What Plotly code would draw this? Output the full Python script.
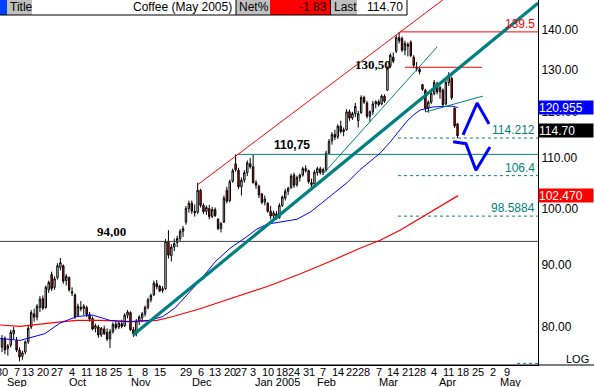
import numpy as np
import pandas as pd
import plotly.graph_objects as go

# ---------------- data ----------------
holidays = ['2004-09-06', '2004-11-25', '2004-12-24', '2004-12-31',
            '2005-01-17', '2005-02-21', '2005-03-25']
days = pd.bdate_range('2004-08-30', '2005-05-31')
days = days[~days.isin(pd.to_datetime(holidays))]

opens = [77.0, 78.3, 76.8, 77.3, 79.0, 78.0, 76.6, 75.7, 76.3, 77.8,
         80.0, 82.0, 81.5, 83.0, 84.4, 83.0, 85.8, 88.3, 86.2, 87.8,
         89.5, 89.8, 87.3, 87.8, 85.5, 85.0, 81.8, 83.0, 82.8, 83.0,
         81.9, 81.3, 79.8, 80.0, 78.8, 79.7, 79.2, 78.2, 79.3, 80.4,
         80.0, 80.5, 80.2, 81.8, 82.2, 79.6, 79.0, 80.9, 81.4, 82.0,
         83.0, 84.2, 85.0, 86.8, 86.4, 85.7, 86.0, 94.0, 91.5, 93.0,
         93.8, 94.5, 95.8, 97.5, 100.0, 101.0, 99.5, 99.3, 103.5, 100.6,
         99.5, 100.0, 98.5, 99.8, 98.0, 96.3, 97.5, 103.5, 101.5, 105.3,
         108.8, 107.5, 104.2, 105.5, 107.0, 108.8, 108.2, 105.0, 104.3, 102.8,
         101.2, 101.0, 99.5, 98.6, 99.0, 98.3, 100.6, 102.0, 103.3, 104.0,
         106.5, 104.6, 106.0, 106.5, 107.8, 107.4, 105.0, 104.8, 107.0, 107.8,
         107.0, 107.6, 111.0, 113.6, 115.0, 114.5, 116.8, 115.6, 116.0, 120.0,
         118.6, 119.6, 118.0, 119.8, 123.3, 122.0, 119.0, 120.0, 121.8, 122.3,
         121.8, 123.6, 125.0, 130.8, 133.0, 134.5, 138.0, 137.8, 134.8, 136.2,
         136.8, 133.0, 130.5, 130.0, 126.3, 125.0, 120.8, 122.2, 124.2, 126.5,
         124.6, 125.0, 121.8, 126.8, 127.8, 120.8, 117.3]
highs = [78.8, 78.6, 77.5, 79.6, 80.0, 78.5, 77.0, 76.5, 78.0, 80.2,
         82.6, 82.8, 83.5, 84.8, 84.9, 86.5, 87.3, 88.8, 88.0, 90.2,
         91.1, 90.0, 88.4, 88.0, 86.2, 85.2, 83.6, 84.0, 83.5, 83.3,
         82.3, 81.6, 80.5, 80.3, 80.0, 80.2, 79.8, 79.7, 80.7, 81.0,
         80.8, 81.1, 82.1, 82.6, 82.4, 80.0, 81.2, 81.8, 82.3, 83.3,
         84.5, 85.2, 87.3, 87.4, 86.6, 86.4, 94.4, 96.0, 93.5, 94.5,
         95.0, 96.2, 96.8, 100.5, 101.5, 101.5, 100.8, 105.0, 103.8, 101.0,
         100.6, 100.7, 100.3, 100.2, 98.2, 97.5, 102.5, 104.2, 105.6, 107.8,
         110.75, 108.0, 106.0, 107.5, 109.5, 110.0, 110.7, 105.5, 104.6, 103.0,
         102.5, 101.2, 100.5, 99.6, 99.5, 101.0, 102.5, 103.8, 104.2, 106.8,
         107.0, 106.4, 106.8, 108.2, 108.5, 107.6, 105.8, 107.5, 108.2, 108.2,
         108.0, 111.5, 114.0, 115.5, 116.0, 117.2, 118.0, 116.5, 120.6, 120.5,
         120.0, 122.0, 120.2, 123.8, 123.7, 122.5, 120.3, 122.5, 122.6, 122.8,
         124.0, 124.0, 130.7, 134.0, 134.2, 138.6, 139.5, 138.3, 137.2, 136.8,
         137.3, 133.5, 131.8, 130.6, 126.5, 125.3, 122.6, 124.6, 127.4, 127.0,
         126.0, 125.4, 127.4, 129.3, 128.2, 121.0, 117.5]
lows = [76.3, 76.0, 75.8, 77.0, 78.2, 76.3, 75.0, 75.2, 76.0, 77.5,
        79.7, 80.8, 81.0, 82.3, 82.6, 82.8, 85.3, 85.6, 85.8, 87.5,
        89.0, 86.8, 86.5, 85.5, 84.8, 81.2, 81.5, 82.4, 81.8, 81.5,
        80.8, 79.5, 79.2, 78.4, 78.5, 78.8, 77.9, 76.9, 79.0, 79.6,
        79.7, 79.8, 80.0, 81.3, 79.4, 78.5, 78.6, 80.3, 80.8, 81.6,
        82.7, 83.8, 84.8, 85.9, 85.5, 85.3, 85.8, 91.0, 90.5, 92.3,
        93.0, 94.0, 94.8, 97.0, 99.2, 99.0, 98.5, 99.0, 100.2, 99.0,
        98.8, 98.0, 98.2, 98.4, 96.0, 95.6, 97.3, 101.0, 101.2, 105.0,
        107.2, 103.8, 102.5, 105.0, 106.3, 107.8, 104.8, 103.8, 102.0, 100.8,
        100.6, 99.2, 98.0, 97.8, 97.9, 98.1, 100.3, 101.5, 102.6, 103.8,
        104.0, 104.2, 105.2, 106.2, 107.0, 104.8, 103.8, 104.5, 106.4, 106.6,
        106.5, 107.2, 110.8, 112.8, 113.8, 114.0, 115.2, 114.6, 115.8, 118.0,
        118.2, 118.8, 116.5, 119.5, 121.8, 118.5, 117.8, 119.3, 120.8, 121.2,
        121.5, 122.0, 124.8, 130.3, 131.5, 134.0, 136.5, 134.3, 133.5, 133.2,
        133.0, 130.3, 129.5, 128.8, 124.8, 120.0, 119.8, 121.8, 123.8, 124.0,
        123.0, 121.0, 121.5, 126.0, 122.7, 116.4, 114.2]
closes = [78.3, 76.6, 77.2, 79.2, 79.5, 76.6, 75.6, 76.2, 77.8, 79.8,
          82.2, 81.5, 83.2, 84.3, 82.9, 86.2, 87.0, 86.0, 87.6, 89.8,
          90.3, 87.2, 88.0, 85.8, 85.3, 81.6, 83.2, 82.8, 83.2, 81.9,
          81.2, 79.7, 80.2, 78.8, 79.8, 79.0, 78.2, 79.3, 80.4, 79.9,
          80.6, 80.1, 81.8, 82.3, 79.6, 79.0, 80.9, 81.5, 82.0, 83.0,
          84.2, 84.9, 86.9, 86.3, 85.6, 86.0, 94.0, 91.6, 93.0, 93.6,
          94.5, 95.8, 96.3, 100.0, 101.0, 99.5, 99.2, 103.5, 100.6, 99.4,
          100.2, 98.5, 99.8, 98.7, 96.3, 97.2, 102.0, 101.4, 105.2, 107.4,
          107.6, 104.2, 105.5, 107.0, 109.0, 108.2, 105.0, 104.5, 102.6, 101.2,
          101.8, 99.5, 98.6, 99.2, 98.2, 100.6, 102.2, 103.3, 103.9, 106.3,
          104.5, 106.0, 106.5, 107.8, 107.4, 105.2, 104.6, 107.1, 107.8, 107.0,
          107.6, 111.0, 113.5, 115.0, 114.4, 116.8, 115.6, 116.0, 120.0, 118.6,
          119.6, 121.2, 119.6, 123.3, 122.2, 119.0, 120.0, 121.8, 122.3, 121.6,
          123.6, 122.4, 130.3, 133.5, 132.0, 138.0, 137.2, 134.8, 136.5, 135.8,
          133.4, 131.0, 130.2, 129.4, 125.2, 120.8, 122.2, 124.2, 126.8, 124.6,
          125.6, 121.6, 126.8, 128.6, 123.2, 116.84, 114.70]

# moving averages, read at sample positions (trading-day index, price)
ma_blue_x = [-0.7, 6.2, 14.7, 19.9, 25.7, 31.2, 37.0, 42.8, 50.7, 55.1, 59.2, 63.4,
             67.8, 72.9, 78.1, 83.2, 87.3, 90.8, 95.2, 101.0, 105.5, 110.0, 114.0,
             118.2, 122.6, 126.7, 129.5, 133.0, 136.3, 138.7, 141.1, 143.2, 147.6,
             151.7, 154.1, 156.2]
ma_blue_y = [78.3, 78.0, 79.0, 80.6, 81.6, 81.8, 81.0, 80.8, 81.0, 81.6, 82.9, 85.0,
             87.3, 90.4, 92.8, 94.6, 96.2, 97.1, 97.5, 98.0, 99.3, 101.3, 103.0,
             105.0, 107.6, 109.6, 111.0, 113.4, 115.9, 117.9, 119.4, 120.4, 121.1,
             121.3, 121.3, 120.955]
ma_red_x = [-0.7, 6.2, 20.9, 25.7, 33.6, 44.9, 53.1, 58.6, 67.8, 78.0, 91.8, 102.0,
            112.3, 122.6, 129.5, 136.3, 143.2, 150.0, 156.2]
ma_red_y = [80.3, 80.1, 80.8, 81.0, 81.0, 80.8, 81.0, 81.6, 82.8, 84.4, 86.5, 88.4,
            90.5, 92.8, 94.2, 96.0, 98.2, 100.5, 102.47]

# drawn trend lines (index, price)
trend_main_x, trend_main_y = [44.9, 183.6], [78.8, 147.3]
trend_fast_x, trend_fast_y = [109.6, 149.0], [106.5, 135.6]
trend_short_x, trend_short_y = [144.9, 164.7], [119.95, 123.6]
channel_x, channel_y = [66.8, 156.8], [104.5, 151.8]
arrow_up_x, arrow_up_y = [157.9, 162.7, 166.8], [114.9, 122.0, 117.3]
arrow_dn_x, arrow_dn_y = [154.5, 158.9, 162.3, 167.1], [113.4, 113.0, 107.5, 112.3]

# horizontal levels
level_94, level_11075, level_1305, level_1395 = 94.0, 110.75, 130.5, 139.5
fib_levels = [114.212, 106.4, 98.5884]
fib_labels = ['114.212', '106.4', '98.5884']
bottom_dash_level = 74.7

last_price, net_pct, blue_last, red_last = 114.70, -1.83, 120.955, 102.470
y_ticks = [80, 90, 100, 110, 120, 130, 140]
y_tick_text = ['80.00', '90.00', '100.00', '110.00', '120.00', '130.00', '140.00']

month_names = ['Sep', 'Oct', 'Nov', 'Dec', 'Jan 2005', 'Feb', 'Mar', 'Apr', 'May']
month_pos = [5.1, 26.0, 47.6, 68.5, 94.5, 111.0, 132.2, 152.4, 174.3]

# ---------------- build figure ----------------
n = len(closes)
xi = np.arange(n)

# weekly ticks: first trading day of each week
tickvals, ticktext = [], []
seen = set()
for k, d in enumerate(days):
    wk = (d - pd.Timedelta(days=d.weekday())).date()
    if wk in seen:
        continue
    seen.add(wk)
    if d > pd.Timestamp('2005-05-09'):
        break
    if d == pd.Timestamp('2004-11-22'):
        continue
    tickvals.append(k)
    ticktext.append(str(d.day))

TEAL = '#008080'
W, H = 594, 387
PW, PH = 538, 365


def px(v):
    return v / PW


def py(v):
    return 1 - v / PH


fig = go.Figure()

XL, XR = -1, 186


def hline(x0, x1, yv, color, width=1, dash=None):
    fig.add_trace(go.Scatter(x=[x0, x1], y=[yv, yv], mode='lines',
                             line=dict(color=color, width=width, dash=dash),
                             hoverinfo='skip', showlegend=False))


hline(XL, XR, level_94, '#404040')
hline(80.5, XR, level_11075, TEAL)
hline(138.0, 164.4, level_1305, '#ff0000')
hline(136.3, XR, level_1395, '#ff0000')
for lv in fib_levels:
    hline(135.6, XR, lv, TEAL, 1, '3px,3px')
hline(176.4, XR, bottom_dash_level, TEAL, 1, '3px,3px')

fig.add_trace(go.Candlestick(
    x=xi, open=opens, high=highs, low=lows, close=closes,
    increasing=dict(fillcolor='white', line=dict(color='black', width=1)),
    decreasing=dict(fillcolor='#ff0000', line=dict(color='black', width=1)),
    whiskerwidth=0, showlegend=False, hoverinfo='skip'))

fig.add_trace(go.Scatter(x=ma_red_x, y=ma_red_y, mode='lines',
                         line=dict(color='#ff0000', width=1.2), hoverinfo='skip', showlegend=False))
fig.add_trace(go.Scatter(x=ma_blue_x, y=ma_blue_y, mode='lines',
                         line=dict(color='#0000ff', width=1), hoverinfo='skip', showlegend=False))
fig.add_trace(go.Scatter(x=channel_x, y=channel_y, mode='lines',
                         line=dict(color='#ff0000', width=1), hoverinfo='skip', showlegend=False))
fig.add_trace(go.Scatter(x=trend_fast_x, y=trend_fast_y, mode='lines',
                         line=dict(color=TEAL, width=1), hoverinfo='skip', showlegend=False))
fig.add_trace(go.Scatter(x=trend_short_x, y=trend_short_y, mode='lines',
                         line=dict(color=TEAL, width=1), hoverinfo='skip', showlegend=False))
fig.add_trace(go.Scatter(x=trend_main_x, y=trend_main_y, mode='lines',
                         line=dict(color=TEAL, width=3.2), hoverinfo='skip', showlegend=False))
fig.add_trace(go.Scatter(x=arrow_up_x, y=arrow_up_y, mode='lines',
                         line=dict(color='#0000ff', width=3), hoverinfo='skip', showlegend=False))
fig.add_trace(go.Scatter(x=arrow_dn_x, y=arrow_dn_y, mode='lines',
                         line=dict(color='#0000ff', width=3), hoverinfo='skip', showlegend=False))

FONT = 'Liberation Sans, Arial, sans-serif'
ann = []
shapes = []

# level labels
ann.append(dict(x=31.8, y=np.log10(level_94), xref='x', yref='y', xanchor='left', yanchor='bottom',
                text='<b>94,00</b>', showarrow=False,
                font=dict(family='Liberation Serif, Times New Roman, serif', size=13, color='black')))
ann.append(dict(x=92.5, y=np.log10(level_11075), xref='x', yref='y', xanchor='left', yanchor='bottom',
                text='<b>110,75</b>', showarrow=False,
                font=dict(family=FONT, size=12, color='black')))
ann.append(dict(x=120.2, y=np.log10(level_1305), xref='x', yref='y', xanchor='left', yanchor='middle',
                text='<b>130,50</b>', showarrow=False, yshift=3,
                font=dict(family='Liberation Serif, Times New Roman, serif', size=13, color='black')))
ann.append(dict(x=px(537), y=np.log10(level_1395), xref='paper', yref='y', xanchor='right', yanchor='bottom',
                text='139.5', showarrow=False, yshift=-1,
                font=dict(family=FONT, size=12, color='#ff0000')))
for lv, lt in zip(fib_levels, fib_labels):
    ann.append(dict(x=px(537), y=np.log10(lv), xref='paper', yref='y', xanchor='right', yanchor='bottom',
                    text=lt, showarrow=False, yshift=-1,
                    font=dict(family=FONT, size=12, color=TEAL)))

# right side value boxes
for val, col, ys in [(blue_last, '#0000ff', 0), (last_price, '#000000', 5), (red_last, '#ff0000', 0)]:
    txt = f'{val:.3f}' if val != last_price else f'{val:.2f}'
    ann.append(dict(x=1, y=np.log10(val), xref='paper', yref='y', xanchor='left', yanchor='middle',
                    text=txt, showarrow=False, bgcolor=col, width=54, height=13, align='left',
                    borderpad=0, yshift=ys, font=dict(family=FONT, size=12, color='white')))

ann.append(dict(x=px(591), y=py(359), xref='paper', yref='paper', xanchor='right', yanchor='middle',
                text='LOG', showarrow=False, font=dict(family=FONT, size=11, color='black')))

# day labels under the axis
for tv, tt in zip(tickvals, ticktext):
    ann.append(dict(x=tv, y=py(371.5), xref='x', yref='paper', xanchor='center', yanchor='middle',
                    text=tt, showarrow=False, font=dict(family=FONT, size=11, color='black')))

# month labels
for mn, mp in zip(month_names, month_pos):
    ann.append(dict(x=mp, y=py(381.5), xref='x', yref='paper', xanchor='center', yanchor='middle',
                    text=mn, showarrow=False, font=dict(family=FONT, size=11, color='black')))


# header
def rect(x0, x1, color):
    shapes.append(dict(type='rect', xref='paper', yref='paper', x0=px(x0), x1=px(x1),
                       y0=py(15), y1=py(0), fillcolor=color, line=dict(width=0), layer='above'))


rect(0, 236, 'white')
rect(0, 7, '#0040ff')
rect(7, 32, '#c0c0c0')
rect(236, 270, '#c0c0c0')
rect(270, 330, '#ff0000')
rect(331, 357, '#c0c0c0')
rect(357, 407, 'white')
for (x0, y0, x1, y1) in [(0, 15, 407, 15), (407, 0, 407, 15), (236, 0, 236, 15), (330.5, 0, 330.5, 15)]:
    shapes.append(dict(type='line', xref='paper', yref='paper', x0=px(x0), x1=px(x1),
                       y0=py(y0), y1=py(y1), line=dict(color='black', width=1), layer='above'))


def htext(x, anchor, text):
    ann.append(dict(x=px(x), y=py(7.5), xref='paper', yref='paper', xanchor=anchor, yanchor='middle',
                    text=text, showarrow=False, font=dict(family=FONT, size=12, color='black')))


htext(8, 'left', 'Title')
htext(234, 'right', 'Coffee (May 2005)')
htext(237, 'left', 'Net%')
htext(329, 'right', f'{net_pct:.2f}')
htext(332, 'left', 'Last')
htext(405, 'right', f'{last_price:.2f}')

# bottom axis line extended under the right panel
shapes.append(dict(type='line', xref='paper', yref='paper', x0=0, x1=px(W), y0=0, y1=0,
                   line=dict(color='black', width=1), layer='above'))

fig.update_layout(
    width=W, height=H, margin=dict(l=0, r=W - PW, t=0, b=H - PH),
    paper_bgcolor='white', plot_bgcolor='white', showlegend=False,
    annotations=ann, shapes=shapes,
    xaxis=dict(range=[-0.68, 183.56], tickvals=tickvals, showticklabels=False,
               showgrid=False, zeroline=False, showline=True, linecolor='black', linewidth=1,
               ticks='', rangeslider=dict(visible=False), fixedrange=True),
    yaxis=dict(type='log', side='right', range=[np.log10(74.47), np.log10(148.14)],
               tickvals=y_ticks, ticktext=y_tick_text, showgrid=False, zeroline=False,
               showline=True, linecolor='black', linewidth=1, ticks='',
               tickfont=dict(family=FONT, size=12, color='black'), fixedrange=True),
)

fig.write_html('out.html')
